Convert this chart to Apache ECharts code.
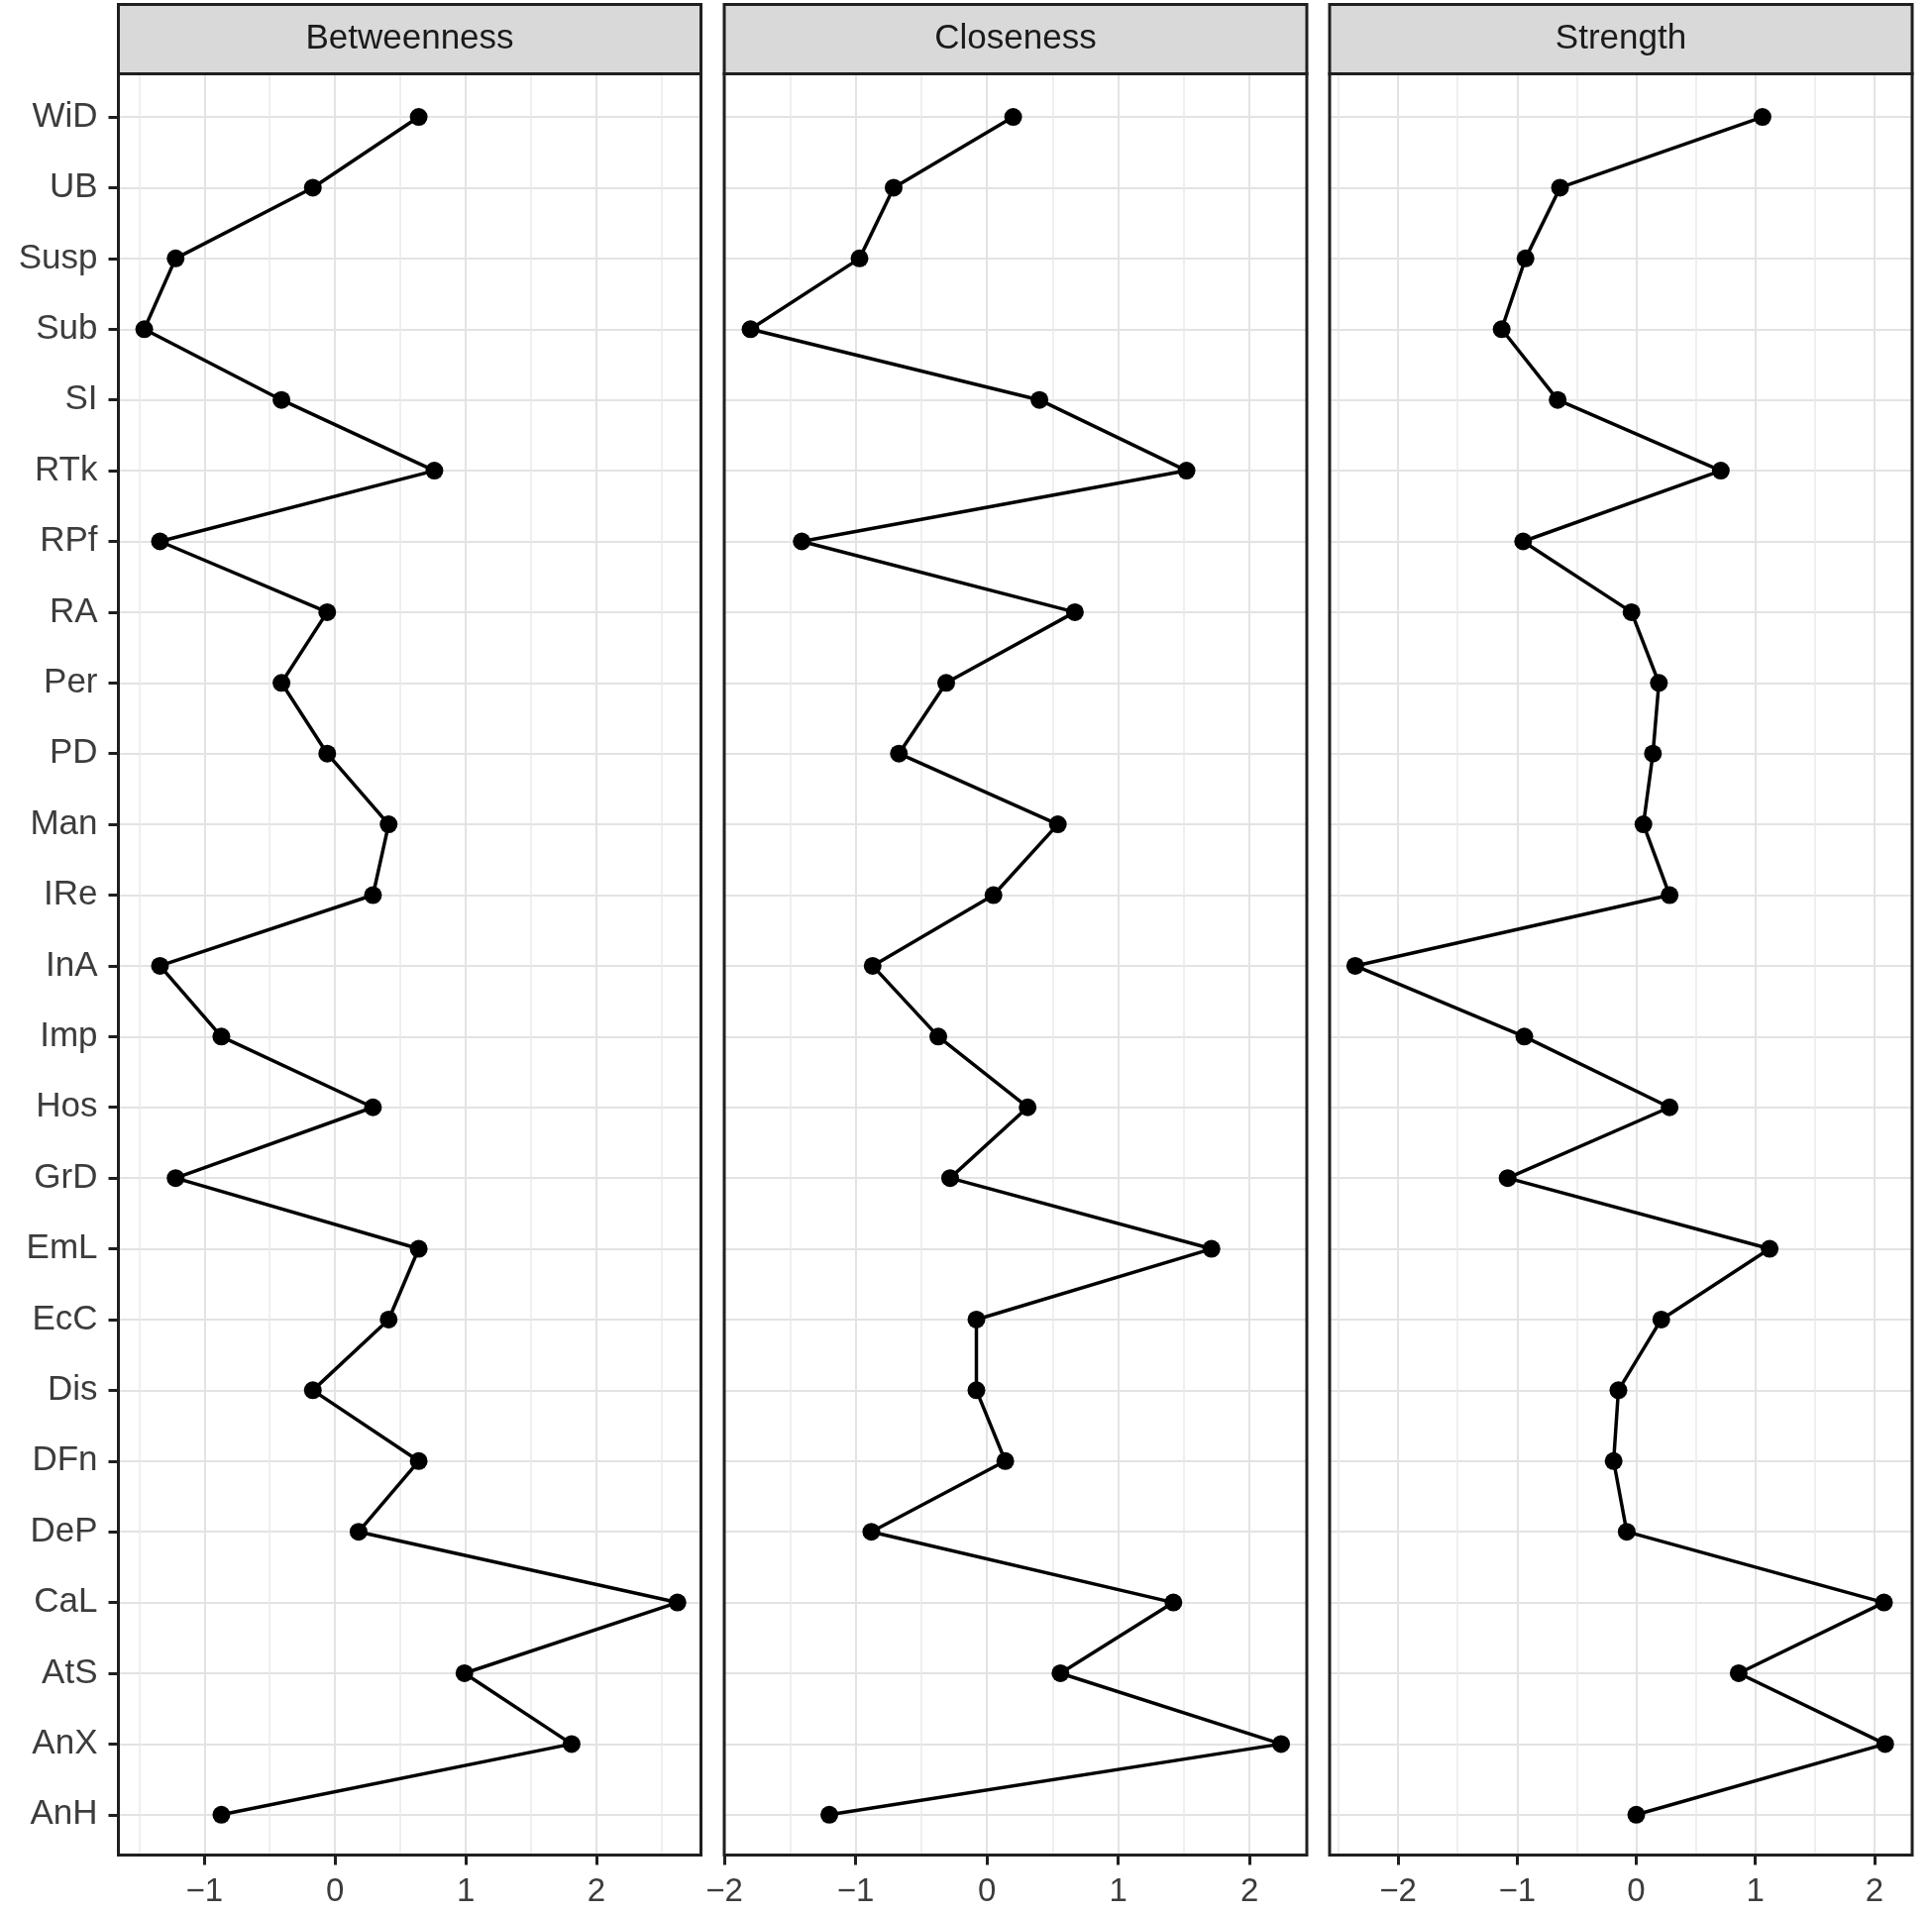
<!DOCTYPE html>
<html>
<head>
<meta charset="utf-8">
<script src="https://cdn.jsdelivr.net/npm/echarts@6/dist/echarts.min.js"></script>
<style>
html, body { margin: 0; padding: 0; background: #fff; }
#chart { width: 1950px; height: 1931px; }
</style>
</head>
<body>
<div id="chart"></div>
<script>
//Node labels, top to bottom
const nodes = ["WiD", "UB", "Susp", "Sub", "SI", "RTk", "RPf", "RA", "Per", "PD", "Man", "IRe", "InA",
	"Imp", "Hos", "GrD", "EmL", "EcC", "Dis", "DFn", "DeP", "CaL", "AtS", "AnX", "AnH"];

//Centrality values (z-scores), same order as nodes
const betweenness = [0.64, -0.17, -1.22, -1.46, -0.41, 0.76, -1.34, -0.06, -0.41, -0.06, 0.41, 0.29, -1.34,
	-0.87, 0.29, -1.22, 0.64, 0.41, -0.17, 0.64, 0.18, 2.62, 0.99, 1.81, -0.87];
const closeness = [0.20, -0.71, -0.97, -1.80, 0.40, 1.52, -1.41, 0.67, -0.31, -0.67, 0.54, 0.05, -0.87,
	-0.37, 0.31, -0.28, 1.71, -0.08, -0.08, 0.14, -0.88, 1.42, 0.56, 2.24, -1.20];
const strength = [1.06, -0.64, -0.93, -1.13, -0.66, 0.71, -0.95, -0.04, 0.19, 0.14, 0.06, 0.28, -2.36,
	-0.94, 0.28, -1.08, 1.12, 0.21, -0.15, -0.19, -0.08, 2.08, 0.86, 2.09, 0.00];

const panelTitles = ["Betweenness", "Closeness", "Strength"];
const panelValues = [betweenness, closeness, strength];

//Tick labels and gridlines per panel
const majorTicks = [[-1, 0, 1, 2], [-2, -1, 0, 1, 2], [-2, -1, 0, 1, 2]];
const minorTicks = [[-1.5, -0.5, 0.5, 1.5, 2.5], [-1.5, -0.5, 0.5, 1.5], [-2.5, -1.5, -0.5, 0.5, 1.5]];
const xMin = [-1.658, -2.0, -2.575];
const xMax = [2.80, 2.436, 2.317];

//Layout
const panel_left = [119.5, 731, 1342];
const panel_width = 588;
const panel_top = 74.5;
const panel_height = 1798;
const strip_top = 4.5;
const border_colour = "#1f1f1f";
const text_colour = "#3c3c3c";
const font_family = "'Liberation Sans', Arial, sans-serif";

let chart = echarts.init(document.getElementById("chart"), null, { renderer: "canvas" });

let grids = [];
let x_axes = [];
let minor_axes = [];
let y_axes = [];
let series = [];
let graphics = [];
let node_index = nodes.map((local_name, i) => i);

function formatTick (value) {
	return (value < 0) ? "\u2212" + Math.abs(value) : String(value);
}

for (let i = 0; i < panelTitles.length; i++) {
	grids.push({
		left: panel_left[i],
		top: panel_top,
		width: panel_width,
		height: panel_height,
		outerBoundsMode: "none"
	});
	
	x_axes.push({
		type: "value",
		gridIndex: i,
		position: "bottom",
		min: xMin[i],
		max: xMax[i],
		axisLine: { show: false, onZero: false },
		axisTick: {
			show: true,
			customValues: majorTicks[i],
			length: 10,
			lineStyle: { color: border_colour, width: 3 }
		},
		axisLabel: {
			show: true,
			customValues: majorTicks[i],
			formatter: formatTick,
			margin: 21,
			color: text_colour,
			fontSize: 33,
			fontFamily: font_family
		},
		splitLine: { show: true, lineStyle: { color: "#e3e3e3", width: 2 } }
	});
	
	minor_axes.push({
		type: "value",
		gridIndex: i,
		position: "top",
		min: xMin[i],
		max: xMax[i],
		axisLine: { show: false, onZero: false },
		axisTick: { show: false, customValues: minorTicks[i] },
		axisLabel: { show: false, customValues: minorTicks[i] },
		splitLine: { show: true, lineStyle: { color: "#eaeaea", width: 1.5 } }
	});
	
	y_axes.push({
		type: "value",
		gridIndex: i,
		position: "left",
		inverse: true,
		min: -0.61,
		max: 24.57,
		axisLine: { show: false, onZero: false },
		axisTick: {
			show: (i === 0),
			customValues: node_index,
			length: 10,
			lineStyle: { color: border_colour, width: 3 }
		},
		axisLabel: {
			show: (i === 0),
			customValues: node_index,
			formatter: (value) => nodes[Math.round(value)],
			margin: 21,
			color: text_colour,
			fontSize: 35,
			fontFamily: font_family
		},
		splitLine: { show: true, lineStyle: { color: "#e3e3e3", width: 2 } }
	});
	
	series.push({
		type: "line",
		xAxisIndex: i,
		yAxisIndex: i,
		data: panelValues[i].map((local_value, j) => [local_value, j]),
		symbol: "circle",
		symbolSize: 18,
		color: "#000",
		lineStyle: { color: "#000", width: 3.5 },
		itemStyle: { color: "#000" },
		animation: false,
		silent: true
	});
	
	//Facet strip and panel border
	graphics.push({
		type: "rect",
		z: 100,
		shape: { x: panel_left[i], y: strip_top, width: panel_width, height: panel_top - strip_top },
		style: { fill: "#d9d9d9", stroke: border_colour, lineWidth: 3 }
	});
	graphics.push({
		type: "text",
		z: 101,
		x: panel_left[i] + panel_width/2,
		y: (strip_top + panel_top)/2,
		style: {
			text: panelTitles[i],
			fill: "#1a1a1a",
			fontSize: 35,
			fontFamily: font_family,
			align: "center",
			verticalAlign: "middle"
		}
	});
	graphics.push({
		type: "rect",
		z: 100,
		shape: { x: panel_left[i], y: panel_top, width: panel_width, height: panel_height },
		style: { fill: null, stroke: border_colour, lineWidth: 3 }
	});
}

chart.setOption({
	backgroundColor: "#fff",
	animation: false,
	grid: grids,
	xAxis: x_axes.concat(minor_axes),
	yAxis: y_axes,
	series: series,
	graphic: graphics
});
</script>
</body>
</html>
